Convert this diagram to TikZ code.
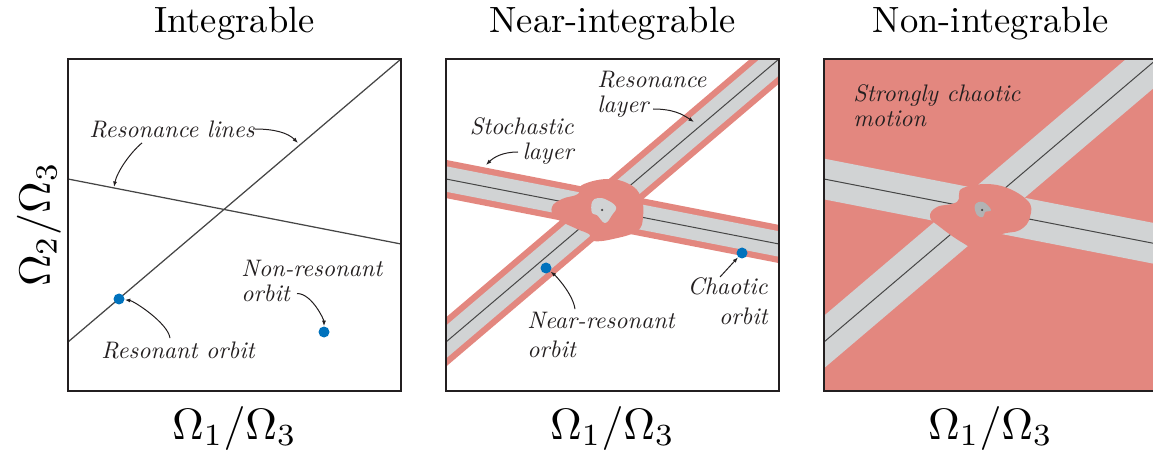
\documentclass[tikz,border=0pt]{standalone}
\usepackage{fix-cm}
\usepackage{fontspec}
\setmainfont{lmroman10}[Extension=.otf, UprightFont=*-regular, ItalicFont=*-italic, BoldFont=*-bold]
\usepackage{amsmath}
\usetikzlibrary{arrows.meta, positioning, calc}

\definecolor{chaosred}{RGB}{227,135,127}
\definecolor{layergray}{RGB}{209,211,212}
\definecolor{orbitblue}{RGB}{0,114,189}
\definecolor{linegray}{RGB}{70,70,70}
\definecolor{framecol}{RGB}{35,31,32}

\newcommand{\axislabel}[2]{\scalebox{2.5}{$\Omega_{#1}/\Omega_{#2}$}}

\tikzset{
  frame/.style={draw=framecol, line width=0.55mm},
  resline/.style={draw=linegray, line width=0.25mm},
  layerline/.style={draw=linegray, line width=0.2mm, shorten <=-8mm, shorten >=-8mm},
  redband/.style={draw=chaosred, line width=7.5mm, shorten <=-8mm, shorten >=-8mm},
  grayband/.style={draw=layergray, line width=5mm, shorten <=-8mm, shorten >=-8mm},
  wideband/.style={draw=layergray, line width=8mm, shorten <=-8mm, shorten >=-8mm},
  dot/.style={circle, fill=orbitblue, inner sep=0pt, minimum size=2.2mm},
  centre/.style={circle, fill=linegray, inner sep=0pt, minimum size=0.5mm},
  lbl/.style={font=\fontsize{13.6}{14.2}\selectfont\itshape, inner sep=0pt, text=framecol},
  title/.style={font=\fontsize{20.8}{24}\selectfont, anchor=base},
  axis/.style={font=\fontsize{10}{12}\selectfont, anchor=base},
  arr/.style={->, line width=0.2mm, draw=framecol}
}

\begin{document}
\begin{tikzpicture}[x=0.2mm, y=-0.2mm, >={Latex[length=1.1mm,width=0.8mm]}]
\useasboundingbox (0,0) rectangle (1153,454);

% titles and axes
\node[title] (t1) at (234.5,33) {Integrable};
\node[title] (t2) at (612.5,33) {Near-integrable};
\node[title] (t3) at (990.5,33) {Non-integrable};
\node[axis] (x1) at (234.5,439) {\axislabel{1}{3}};
\node[axis] (x2) at (612.5,439) {\axislabel{1}{3}};
\node[axis] (x3) at (990.5,439) {\axislabel{1}{3}};
\node[axis, rotate=90] (y1) at (50,224.5) {\axislabel{2}{3}};

% integrable
\coordinate (d1) at (68,342); \coordinate (d2) at (401,59);
\coordinate (s1) at (68,179); \coordinate (s2) at (401,244);
\draw[resline] (d1) -- (d2);
\draw[resline] (s1) -- (s2);
\node[dot] (res) at (119,299) {};
\node[dot] (nonres) at (324,332) {};
\node[lbl, anchor=west] (resl) at (89,129) {Resonance lines};
\coordinate (rl1) at (114,187);
\coordinate (rl2) at (298,143);
\draw[arr] (resl.east) .. controls +(20,0) and +(-10,-10) .. (rl2);
\draw[arr] ($(resl.south west)+(53,5)$) .. controls +(-12,10) and +(3,-15) .. (rl1);
\node[lbl, anchor=west, align=left] (nonresl) at (241,280.5) {Non-resonant\\orbit};
\draw[arr] ($(nonresl.west)+(56,13)$) .. controls +(15,0) and +(0,-12) .. (nonres);
\node[lbl, anchor=west] (resorl) at (101,350) {Resonant orbit};
\draw[arr] ($(resorl.north west)+(69,-3)$) .. controls +(-2,-15) and +(15,2) .. (res);
\draw[frame] (68,59) rectangle (401,391);

% near-integrable
\begin{scope}[shift={(378,0)}]
  \coordinate (d1) at (68,342); \coordinate (d2) at (401,59);
  \coordinate (s1) at (68,179); \coordinate (s2) at (401,244);
  \begin{scope}
    \clip (68,59) rectangle (401,391);
    \draw[redband] (d1) -- (d2);
    \draw[redband] (s1) -- (s2);
    \draw[grayband] (d1) -- (d2);
    \draw[grayband] (s1) -- (s2);
    \draw[layerline] (d1) -- (d2);
    \draw[layerline] (s1) -- (s2);
    \fill[chaosred] plot[smooth cycle, tension=0.7] coordinates {
      (204,185) (229,179) (251,184) (263,197) (265,217) (259,231)
      (235,239) (215,241) (211,234) (199,229) (178,218) (174,207)
      (184,199) (200,194)};
    \fill[layergray] plot[smooth cycle, tension=0.7] coordinates {
      (214,202) (220,198) (229,200) (238,207) (234,215) (227,223)
      (219,215) (214,213)};
    \node[centre] (c2) at (224,210) {};
  \end{scope}
  \node[dot] (near) at (168,268) {};
  \node[dot] (chao) at (364,253) {};
  \node[lbl, anchor=west, align=left] (rlay) at (219,94) {Resonance\\layer};
  \coordinate (rlay2) at (316,122);
  \draw[arr] ($(rlay.west)+(56,15)$) .. controls +(20,0) and +(-12,-8) .. (rlay2);
  \node[lbl, anchor=east, align=right] (stoch) at (196,141) {Stochastic\\layer};
  \coordinate (stoch2) at (108,165);
  \draw[arr] ($(stoch.east)+(-56,11)$) .. controls +(-15,0) and +(8,-8) .. (stoch2);
  \node[lbl, anchor=west, align=left] (nearl) at (149,335) {Near-resonant\\[2pt]orbit};
  \draw[arr] ($(nearl.north west)+(48,-3)$) .. controls +(-2,-15) and +(10,8) .. (near);
  \node[lbl, anchor=east, align=right] (chaol) at (390,301) {Chaotic\\[3pt]orbit};
  \draw[arr] ($(chaol.north east)+(-48,0)$) -- (chao);
  \draw[frame] (68,59) rectangle (401,391);
\end{scope}

% non-integrable
\begin{scope}[shift={(756,0)}]
  \coordinate (d1) at (68,342); \coordinate (d2) at (401,59);
  \coordinate (s1) at (68,179); \coordinate (s2) at (401,244);
  \begin{scope}
    \clip (68,59) rectangle (401,391);
    \fill[chaosred] (68,59) rectangle (401,391);
    \draw[wideband] (d1) -- (d2);
    \draw[wideband] (s1) -- (s2);
    \draw[layerline] (d1) -- (d2);
    \draw[layerline] (s1) -- (s2);
    \fill[chaosred] plot[smooth cycle, tension=0.7] coordinates {
      (207,188) (241,185) (271,200) (274,217) (264,230) (244,235)
      (224,250) (207,243) (184,227) (174,217) (181,207) (201,202)};
    \fill[layergray!85!black] plot[smooth cycle, tension=0.7] coordinates {
      (219,205) (227,202) (235,210) (229,212) (227,217) (221,215)};
    \node[centre] (c3) at (226,210) {};
  \end{scope}
  \node[lbl, anchor=west, align=left] (strong) at (97,105.5) {Strongly chaotic\\motion};
  \draw[frame] (68,59) rectangle (401,391);
\end{scope}
\end{tikzpicture}
\end{document}
